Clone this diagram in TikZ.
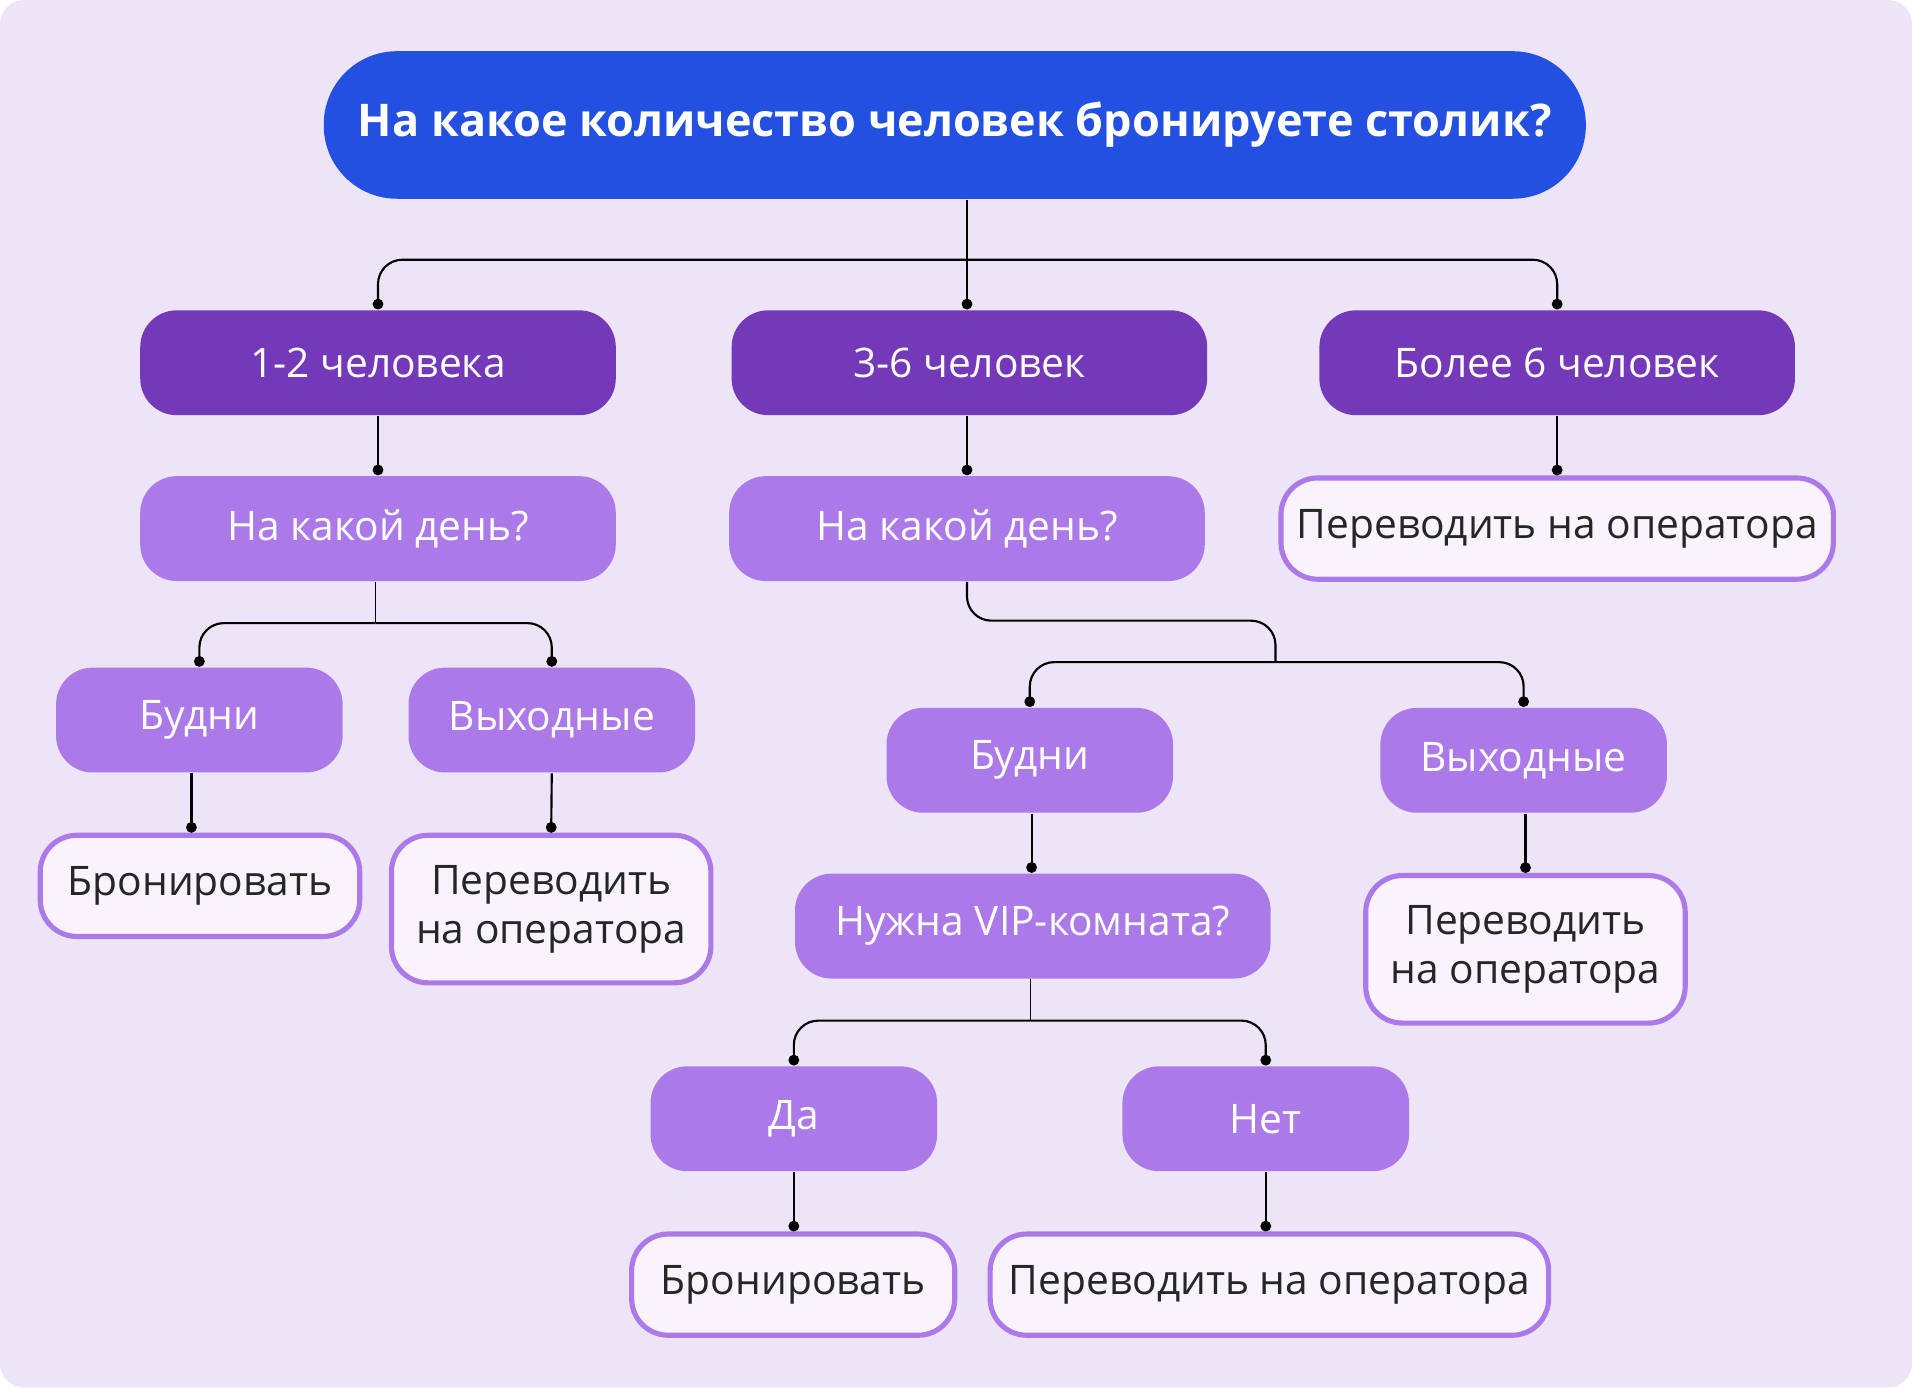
\documentclass[tikz,border=0pt]{standalone}
\usepackage{fontspec}
\setmainfont{Open Sans}
\usetikzlibrary{arrows.meta}
\definecolor{bgc}{HTML}{EDE4F7}
\definecolor{topc}{HTML}{2350E0}
\definecolor{darkc}{HTML}{7439B8}
\definecolor{lightc}{HTML}{AC7AE8}
\definecolor{boxc}{HTML}{F8F3FD}

\tikzset{
  qtop/.style={fill=topc, text=white, rounded corners=0.6cm, minimum width=10.35cm, minimum height=1.21cm, font=\fontsize{10.5}{12}\selectfont\bfseries},
  qdark/.style={fill=darkc, text=white, rounded corners=0.3cm, minimum width=3.9cm, minimum height=0.86cm, font=\fontsize{9.5}{11}\selectfont},
  qlight/.style={fill=lightc, text=white, rounded corners=0.3cm, minimum height=0.86cm, font=\fontsize{9.5}{11}\selectfont},
  qout/.style={draw=lightc, line width=1.2pt, fill=boxc, text=black!85, rounded corners=0.3cm, minimum height=0.83cm, align=center, font=\fontsize{9.5}{11.5}\selectfont},
  link/.style={draw=black, line width=0.5pt, rounded corners=0.2cm, -{Circle[length=2.5pt]}}
}

\begin{document}
\begin{tikzpicture}
\fill[bgc, rounded corners=0.2cm] (0,0) rectangle (15.68,-11.38);
\useasboundingbox (0,0) rectangle (15.68,-11.38);

\node[qtop] (top) at (7.83,-1.025) {На какое количество человек бронируете столик?};

\node[qdark] (p12) at (3.10,-2.975) {1-2 человека};
\node[qdark] (p36) at (7.95,-2.975) {3-6 человек};
\node[qdark] (p6) at (12.77,-2.975) {Более 6 человек};

\node[qlight, minimum width=3.9cm] (d1) at (3.10,-4.335) {На какой день?};
\node[qlight, minimum width=3.9cm] (d2) at (7.93,-4.335) {На какой день?};
\node[qout, minimum width=4.53cm] (op1) at (12.77,-4.335) {Переводить на оператора};

\node[qlight, minimum width=2.35cm] (wd1) at (1.635,-5.905) {Будни};
\node[qlight, minimum width=2.35cm] (we1) at (4.525,-5.905) {Выходные};
\node[qout, minimum width=2.62cm] (b1) at (1.64,-7.265) {Бронировать};
\node[qout, minimum width=2.62cm, minimum height=1.21cm] (op2) at (4.52,-7.455) {Переводить\\на оператора};

\node[qlight, minimum width=2.35cm] (wd2) at (8.445,-6.235) {Будни};
\node[qlight, minimum width=2.35cm] (we2) at (12.495,-6.235) {Выходные};
\node[qout, minimum width=2.62cm, minimum height=1.21cm] (op3) at (12.51,-7.785) {Переводить\\на оператора};
\node[qlight, minimum width=3.9cm] (vip) at (8.47,-7.595) {Нужна VIP-комната?};

\node[qlight, minimum width=2.35cm] (yes) at (6.51,-9.175) {Да};
\node[qlight, minimum width=2.35cm] (no) at (10.38,-9.175) {Нет};
\node[qout, minimum width=2.65cm] (b2) at (6.505,-10.535) {Бронировать};
\node[qout, minimum width=4.58cm] (op4) at (10.41,-10.535) {Переводить на оператора};

% level 1
\coordinate (t0) at (7.93,-2.13);
\draw[link] (t0) -| (p12.north);
\draw[link] (t0) -| (p6.north);
\draw[link] (top.south -| t0) -- (p36.north -| t0);

\draw[link] (p12.south) -- (d1.north);
\draw[link] (p36.south -| d2) -- (d2.north);
\draw[link] (p6.south) -- (op1.north);

% left branch
\coordinate (l0) at (3.08,-5.11);
\draw (d1.south -| l0) -- (l0);
\draw[link] (l0) -| (wd1.north);
\draw[link] (l0) -| (we1.north);
\draw[link] (wd1.south -| 1.57,0) -- (b1.north -| 1.57,0);
\draw[link] (we1.south) -- (op2.north);

% middle branch
\coordinate (m0) at (10.46,-5.43);
\draw[draw=black, line width=0.5pt, rounded corners=0.2cm] (d2.south) |- (10.46,-5.09) -- (m0);
\draw[link] (m0) -| (wd2.north);
\draw[link] (m0) -| (we2.north);
\draw[link] (wd2.south -| 8.46,0) -- (vip.north -| 8.46,0);
\draw[link] (we2.south -| 12.51,0) -- (op3.north -| 12.51,0);

\coordinate (v0) at (8.45,-8.37);
\draw (vip.south -| v0) -- (v0);
\draw[link] (v0) -| (yes.north);
\draw[link] (v0) -| (no.north);
\draw[link] (yes.south) -- (b2.north -| yes);
\draw[link] (no.south) -- (op4.north -| no);
\end{tikzpicture}
\end{document}
